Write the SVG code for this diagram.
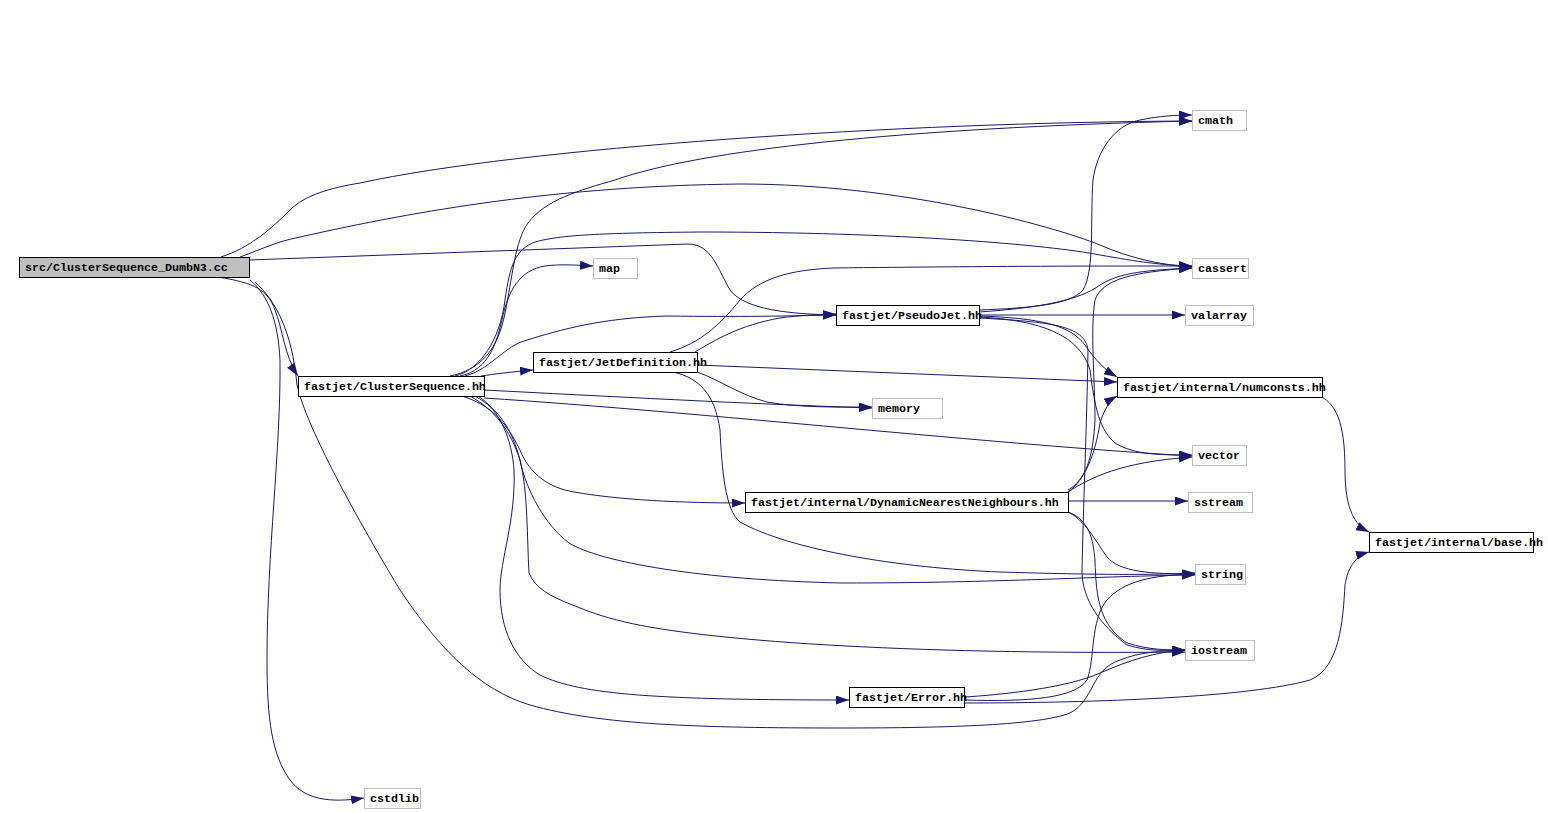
<svg xmlns="http://www.w3.org/2000/svg" width="1548" height="813" viewBox="0 0 1548 813">
<style>
.n rect{fill:#ffffff;stroke:#000000;stroke-width:1}
.n.ext rect{stroke:#bfbfbf}
.n.root rect{fill:#bfbfbf}
.n text{font-family:"Liberation Mono","DejaVu Sans Mono",monospace;font-size:11.67px;font-weight:bold;fill:#000000}
#edges path{fill:none;stroke:#191970;stroke-width:1;marker-end:url(#arr)}
</style>
<defs>
<marker id="arr" markerUnits="userSpaceOnUse" markerWidth="14" markerHeight="10" refX="13" refY="4.5" orient="auto">
<path d="M0,0 L13,4.5 L0,9 z" fill="#191970"/>
</marker>
</defs>
<rect width="1548" height="813" fill="#ffffff"/>
<g id="edges">
<path d="M221,257 C250,248 272,228 290,210 C305,195 330,188 360,183 C520,148 900,122 1192,121"/>
<path d="M240,257 C265,248 275,242 300,237 C420,210 560,186 740,184 C900,184 1050,225 1100,245 C1130,258 1160,265 1192,267"/>
<path d="M249,260 L688,244 C712,244 718,270 730,290 C745,310 790,314 836,315"/>
<path d="M218,277 C255,283 268,290 275,310 C283,330 284,355 298,376"/>
<path d="M250,280 C268,295 278,320 280,360 C281,450 267,550 267,660 C267,720 272,755 290,780 C305,800 330,803 364,798"/>
<path d="M255,282 C275,300 292,330 297,385 C305,420 340,490 400,590 C440,650 480,690 530,705 C600,725 700,728 842,728 C950,728 1040,725 1070,713 C1095,700 1090,670 1120,660 C1140,652 1160,651 1185,650"/>
<path d="M450,376 C480,370 498,350 505,313 C512,280 515,240 528,223 C545,200 580,190 615,180 C700,150 900,128 1192,121"/>
<path d="M455,376 C480,370 500,340 505,300 C510,265 515,250 535,242 C560,235 600,233 700,232 C900,232 1050,245 1100,255 C1140,262 1160,265 1192,266"/>
<path d="M460,376 C490,370 497,340 502,320 C508,290 520,270 545,266 C560,264 575,265 593,266"/>
<path d="M465,376 C490,370 505,345 527,340 C560,330 600,318 667,316 C740,317 790,316 836,315"/>
<path d="M481,376 C495,374 510,372 533,370"/>
<path d="M484,390 C600,396 750,404 872,408"/>
<path d="M484,398 C700,412 1000,445 1192,456"/>
<path d="M462,396 C490,405 505,420 520,450 C530,475 550,488 574,492 C620,500 680,503 745,503"/>
<path d="M475,396 C500,410 512,430 520,460 C526,490 545,525 569,543 C600,562 700,580 842,583 C1000,583 1100,576 1195,575"/>
<path d="M470,396 C495,410 510,430 520,460 C528,490 527,540 529,573 C535,588 550,596 570,604 C590,612 600,616 625,622 C700,640 900,655 1185,652"/>
<path d="M478,396 C500,410 512,440 514,470 C516,520 500,560 500,590 C500,630 515,660 540,675 C580,695 660,700 849,700"/>
<path d="M670,352 C700,343 720,325 740,300 C760,278 790,270 833,268 C1000,266 1100,266 1192,266"/>
<path d="M695,352 C715,340 740,325 780,318 C800,315 815,315 836,314"/>
<path d="M697,365 L1117,382"/>
<path d="M697,372 C720,380 740,395 767,402 C800,408 840,407 872,407"/>
<path d="M673,372 C700,378 715,395 720,430 C722,470 725,510 740,522 C790,550 900,568 1000,572 C1100,575 1150,575 1195,573"/>
<path d="M979,310 C1030,308 1070,305 1083,290 C1095,270 1090,220 1093,180 C1097,150 1115,125 1140,120 C1160,116 1175,115 1192,115"/>
<path d="M979,312 C1040,308 1080,300 1100,285 C1120,272 1150,270 1192,268"/>
<path d="M979,315 L1185,315"/>
<path d="M979,316 C1040,318 1070,325 1085,345 C1095,360 1105,370 1117,377"/>
<path d="M979,317 C1040,320 1080,335 1090,370 C1095,410 1100,430 1115,443 C1135,455 1160,455 1192,455"/>
<path d="M979,318 C1050,322 1085,325 1088,350 C1087,420 1083,513 1082,573 C1083,600 1100,625 1127,645 C1150,652 1165,650 1185,650"/>
<path d="M1068,490 C1085,480 1093,460 1095,420 C1095,380 1090,330 1095,300 C1102,280 1130,272 1192,268"/>
<path d="M1068,492 C1085,480 1095,455 1100,423 C1104,410 1110,400 1117,396"/>
<path d="M1068,492 C1090,478 1120,462 1192,457"/>
<path d="M1068,501 L1188,501"/>
<path d="M1068,512 C1085,520 1095,540 1107,557 C1120,572 1150,574 1195,574"/>
<path d="M1068,512 C1090,520 1093,540 1095,560 C1096,600 1100,625 1127,643 C1150,650 1165,650 1185,650"/>
<path d="M964,697 C1000,695 1067,688 1100,673 C1130,660 1155,652 1185,650"/>
<path d="M964,700 C1030,702 1075,698 1087,680 C1095,660 1090,620 1107,600 C1123,582 1150,575 1195,574"/>
<path d="M964,703 C1100,703 1250,697 1310,680 C1340,668 1343,620 1345,585 C1348,565 1358,555 1369,552"/>
<path d="M1322,397 C1335,405 1345,420 1345,470 C1345,510 1355,525 1369,532"/>
</g>
<g id="node_src" class="n root"><rect x="19.5" y="257.5" width="230" height="20"/><text x="25" y="271">src/ClusterSequence_DumbN3.cc</text></g>
<g id="node_cs" class="n"><rect x="298.5" y="376.5" width="186" height="20"/><text x="304" y="390">fastjet/ClusterSequence.hh</text></g>
<g id="node_map" class="n ext"><rect x="593.5" y="258.5" width="44" height="20"/><text x="599" y="272">map</text></g>
<g id="node_pj" class="n"><rect x="836.5" y="305.5" width="143" height="20"/><text x="842" y="319">fastjet/PseudoJet.hh</text></g>
<g id="node_jd" class="n"><rect x="533.5" y="352.5" width="164" height="20"/><text x="539" y="366">fastjet/JetDefinition.hh</text></g>
<g id="node_memory" class="n ext"><rect x="872.5" y="398.5" width="70" height="20"/><text x="878" y="412">memory</text></g>
<g id="node_cmath" class="n ext"><rect x="1192.5" y="110.5" width="54" height="20"/><text x="1198" y="124">cmath</text></g>
<g id="node_cassert" class="n ext"><rect x="1192.5" y="258.5" width="56" height="20"/><text x="1198" y="272">cassert</text></g>
<g id="node_valarray" class="n ext"><rect x="1185.5" y="305.5" width="68" height="20"/><text x="1191" y="319">valarray</text></g>
<g id="node_numconsts" class="n"><rect x="1117.5" y="377.5" width="205" height="20"/><text x="1123" y="391">fastjet/internal/numconsts.hh</text></g>
<g id="node_vector" class="n ext"><rect x="1192.5" y="445.5" width="54" height="20"/><text x="1198" y="459">vector</text></g>
<g id="node_sstream" class="n ext"><rect x="1188.5" y="492.5" width="64" height="20"/><text x="1194" y="506">sstream</text></g>
<g id="node_string" class="n ext"><rect x="1195.5" y="564.5" width="50" height="20"/><text x="1201" y="578">string</text></g>
<g id="node_iostream" class="n ext"><rect x="1185.5" y="640.5" width="69" height="20"/><text x="1191" y="654">iostream</text></g>
<g id="node_base" class="n"><rect x="1369.5" y="532.5" width="164" height="20"/><text x="1375" y="546">fastjet/internal/base.hh</text></g>
<g id="node_dnn" class="n"><rect x="745.5" y="492.5" width="323" height="20"/><text x="751" y="506">fastjet/internal/DynamicNearestNeighbours.hh</text></g>
<g id="node_error" class="n"><rect x="849.5" y="687.5" width="115" height="20"/><text x="855" y="701">fastjet/Error.hh</text></g>
<g id="node_cstdlib" class="n ext"><rect x="364.5" y="788.5" width="56" height="20"/><text x="370" y="802">cstdlib</text></g>
</svg>
